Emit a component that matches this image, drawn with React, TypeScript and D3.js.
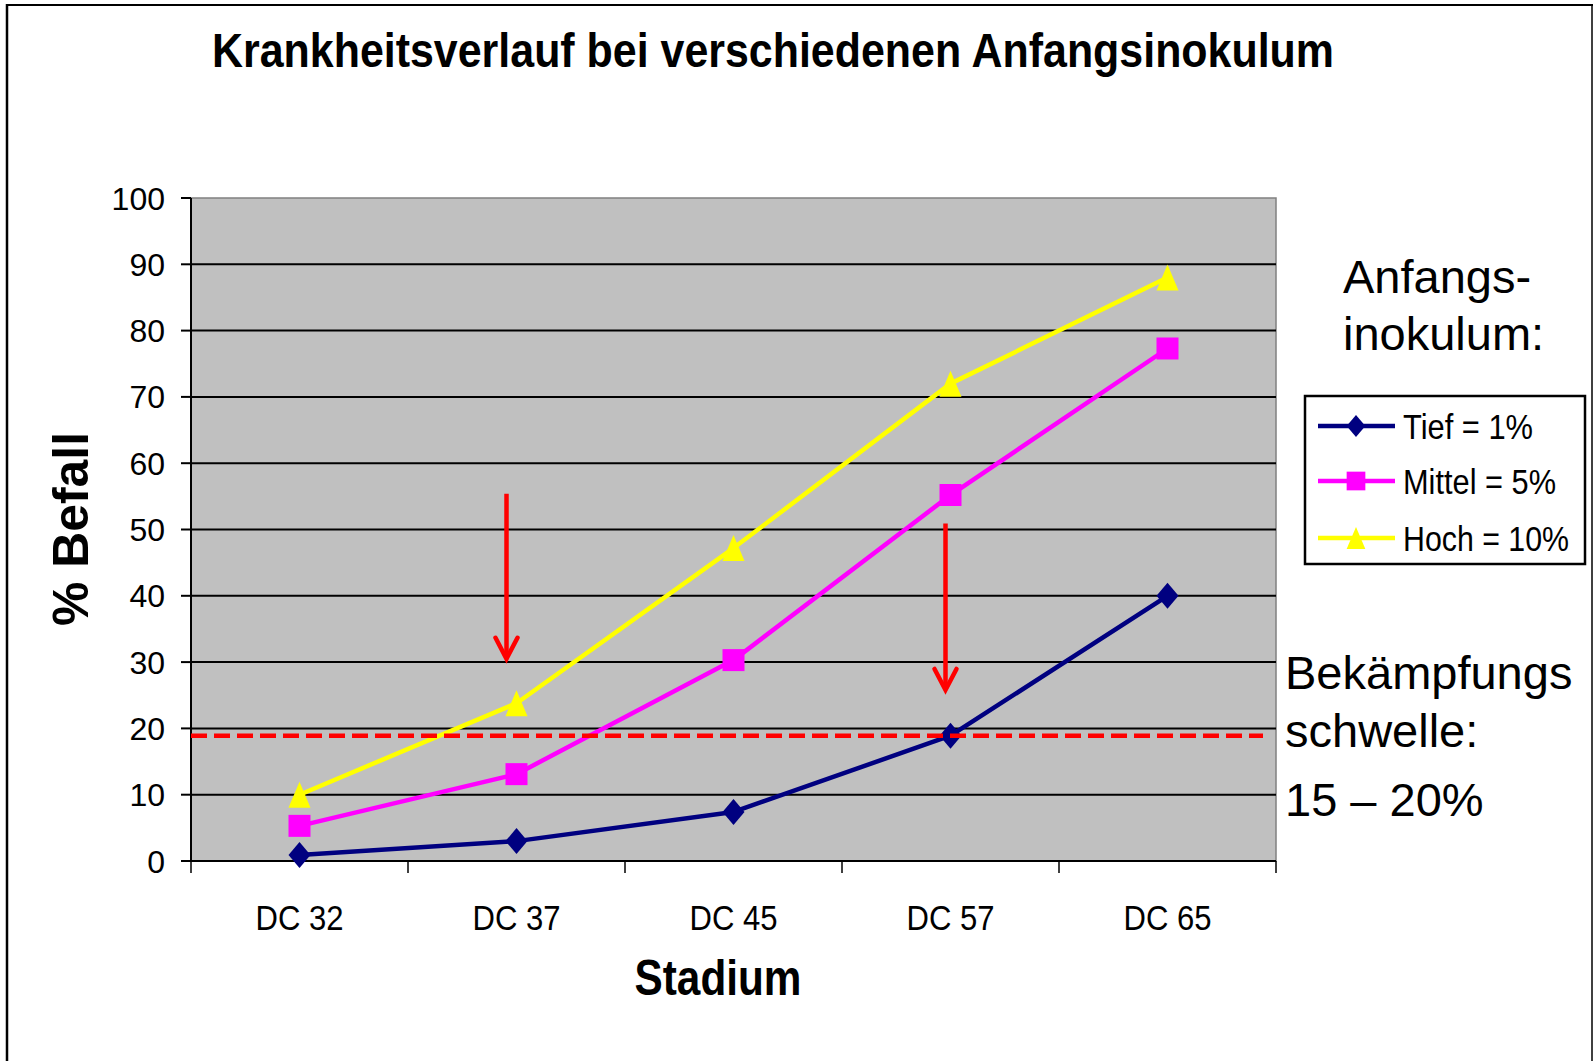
import React from "react";
import * as d3 from "d3";

const categories = ["DC 32", "DC 37", "DC 45", "DC 57", "DC 65"];
const tiefValues = [0.9, 3.0, 7.4, 18.9, 40];
const mittelValues = [5.3, 13.1, 30.3, 55.2, 77.3];
const hochValues = [10, 23.8, 47.2, 72, 88];
const yTicks = [0, 10, 20, 30, 40, 50, 60, 70, 80, 90, 100];
const seriesNames = ["Tief = 1%", "Mittel = 5%", "Hoch = 10%"];
const thresholdValue = 18.9;
const arrowCats = ["DC 37", "DC 57"];
const arrowFrom = [55.4, 50.9];
const arrowTo = [30.5, 25.8];

const W = 1595, H = 1061;
const X0 = 191, X1 = 1276, Y0 = 861, Y1 = 198;
const FONT = "'Liberation Sans', Arial, sans-serif";

const x = d3.scaleBand<string>().domain(categories).range([X0, X1]).padding(0);
const y = d3.scaleLinear().domain([0, 100]).range([Y0, Y1]);
const cx = (c: string) => (x(c) as number) + x.bandwidth() / 2;

const series = [
  { name: seriesNames[0], values: tiefValues, color: "#000080", marker: "diamond" },
  { name: seriesNames[1], values: mittelValues, color: "#FF00FF", marker: "square" },
  { name: seriesNames[2], values: hochValues, color: "#FFFF00", marker: "triangle" },
];
const legendTextLen = [130, 153, 166];
const CONDENSE = 0.85;

function markerPath(kind: string, s: number) {
  if (kind === "diamond") return `M0,${-13 * s}L${11 * s},0L0,${13 * s}L${-11 * s},0Z`;
  if (kind === "square") return `M${-11 * s},${-11 * s}H${11 * s}V${11 * s}H${-11 * s}Z`;
  return `M0,${-13 * s}L${11 * s},${13 * s}L${-11 * s},${13 * s}Z`;
}

export default function App() {
  const line = d3
    .line<number>()
    .x((_, i) => cx(categories[i]))
    .y((v) => y(v));
  const arrowDx = [-10, -5];
  return (
    <svg
      width={W}
      height={H}
      style={{ position: "absolute", left: 0, top: 0, background: "#fff" }}
      fontFamily={FONT}
    >
      <rect x={0} y={0} width={W} height={H} fill="#fff" />
      {/* outer frame */}
      <line x1={7} y1={4} x2={7} y2={H} stroke="#000" strokeWidth={2.5} />
      <line x1={6} y1={5} x2={1593} y2={5} stroke="#000" strokeWidth={2} />
      <line x1={1592} y1={4} x2={1592} y2={H} stroke="#000" strokeWidth={1.5} />

      {/* title */}
      <text x={212} y={67} fontSize={49} fontWeight="bold" textLength={1122} lengthAdjust="spacingAndGlyphs">
        Krankheitsverlauf bei verschiedenen Anfangsinokulum
      </text>

      {/* plot area */}
      <rect x={X0} y={Y1} width={X1 - X0} height={Y0 - Y1} fill="#C0C0C0" stroke="#808080" strokeWidth={1.5} />
      {yTicks.filter((t) => t > 0 && t < 100).map((t) => (
        <line key={t} x1={X0} x2={X1} y1={y(t)} y2={y(t)} stroke="#000" strokeWidth={2} />
      ))}

      {/* y axis */}
      <line x1={X0} x2={X0} y1={Y1} y2={Y0} stroke="#000" strokeWidth={2} />
      {yTicks.map((t) => (
        <g key={t}>
          <line x1={X0 - 10} x2={X0} y1={y(t)} y2={y(t)} stroke="#000" strokeWidth={2} />
          <text x={165} y={y(t)} dy="0.36em" fontSize={32} textAnchor="end">
            {t}
          </text>
        </g>
      ))}

      {/* x axis */}
      <line x1={X0} x2={X1} y1={Y0} y2={Y0} stroke="#000" strokeWidth={2} />
      {[...categories.map((c) => x(c) as number), X1].map((p, i) => (
        <line key={i} x1={p} x2={p} y1={Y0} y2={Y0 + 12} stroke="#000" strokeWidth={1.5} />
      ))}
      {categories.map((c) => (
        <text
          key={c}
          transform={`translate(${cx(c)},930) scale(${CONDENSE},1)`}
          fontSize={36}
          textAnchor="middle"
          textLength={88 / CONDENSE}
          lengthAdjust="spacingAndGlyphs"
        >
          {c}
        </text>
      ))}

      {/* axis titles */}
      <text
        transform={`translate(718,995) scale(${CONDENSE},1)`}
        fontSize={50}
        fontWeight="bold"
        textAnchor="middle"
        textLength={167 / CONDENSE}
        lengthAdjust="spacingAndGlyphs"
      >
        Stadium
      </text>
      <text
        transform="translate(88,529) rotate(-90)"
        fontSize={50}
        fontWeight="bold"
        textAnchor="middle"
        textLength={194}
        lengthAdjust="spacingAndGlyphs"
      >
        % Befall
      </text>

      {/* series */}
      {series.map((s) => (
        <g key={s.name}>
          <path d={line(s.values) as string} fill="none" stroke={s.color} strokeWidth={4.5} strokeLinejoin="round" />
          {s.values.map((v, i) => (
            <path key={i} transform={`translate(${cx(categories[i])},${y(v)})`} d={markerPath(s.marker, 1)} fill={s.color} />
          ))}
        </g>
      ))}

      {/* threshold line */}
      <line
        x1={X0}
        x2={1263}
        y1={y(thresholdValue)}
        y2={y(thresholdValue)}
        stroke="#FF0000"
        strokeWidth={4.5}
        strokeDasharray="16,7"
      />

      {/* arrows */}
      {arrowCats.map((c, i) => {
        const ax = cx(c) + arrowDx[i];
        const ya = y(arrowFrom[i]);
        const yb = y(arrowTo[i]);
        return (
          <g key={c} stroke="#FF0000" strokeWidth={4.5} fill="none">
            <line x1={ax} x2={ax} y1={ya} y2={yb - 2} />
            <path d={`M${ax - 11},${yb - 21}L${ax},${yb}L${ax + 11},${yb - 21}`} strokeLinejoin="miter" strokeLinecap="round" />
          </g>
        );
      })}

      {/* right annotations */}
      <text x={1343} y={293} fontSize={47}>Anfangs-</text>
      <text x={1343} y={350} fontSize={47}>inokulum:</text>
      <text x={1285} y={689} fontSize={47}>Bekämpfungs</text>
      <text x={1285} y={747} fontSize={47}>schwelle:</text>
      <text x={1285} y={816} fontSize={47}>15 – 20%</text>

      {/* legend */}
      <rect x={1305} y={396} width={280} height={168} fill="#fff" stroke="#000" strokeWidth={2.5} />
      {series.map((s, i) => {
        const ry = [426, 481, 538][i];
        return (
          <g key={s.name}>
            <line x1={1318} x2={1395} y1={ry} y2={ry} stroke={s.color} strokeWidth={4.5} />
            <path transform={`translate(1356,${ry})`} d={markerPath(s.marker, 0.85)} fill={s.color} />
            <text
              transform={`translate(1403,${ry + 13}) scale(${CONDENSE},1)`}
              fontSize={36}
              textLength={legendTextLen[i] / CONDENSE}
              lengthAdjust="spacingAndGlyphs"
            >
              {s.name}
            </text>
          </g>
        );
      })}
    </svg>
  );
}
